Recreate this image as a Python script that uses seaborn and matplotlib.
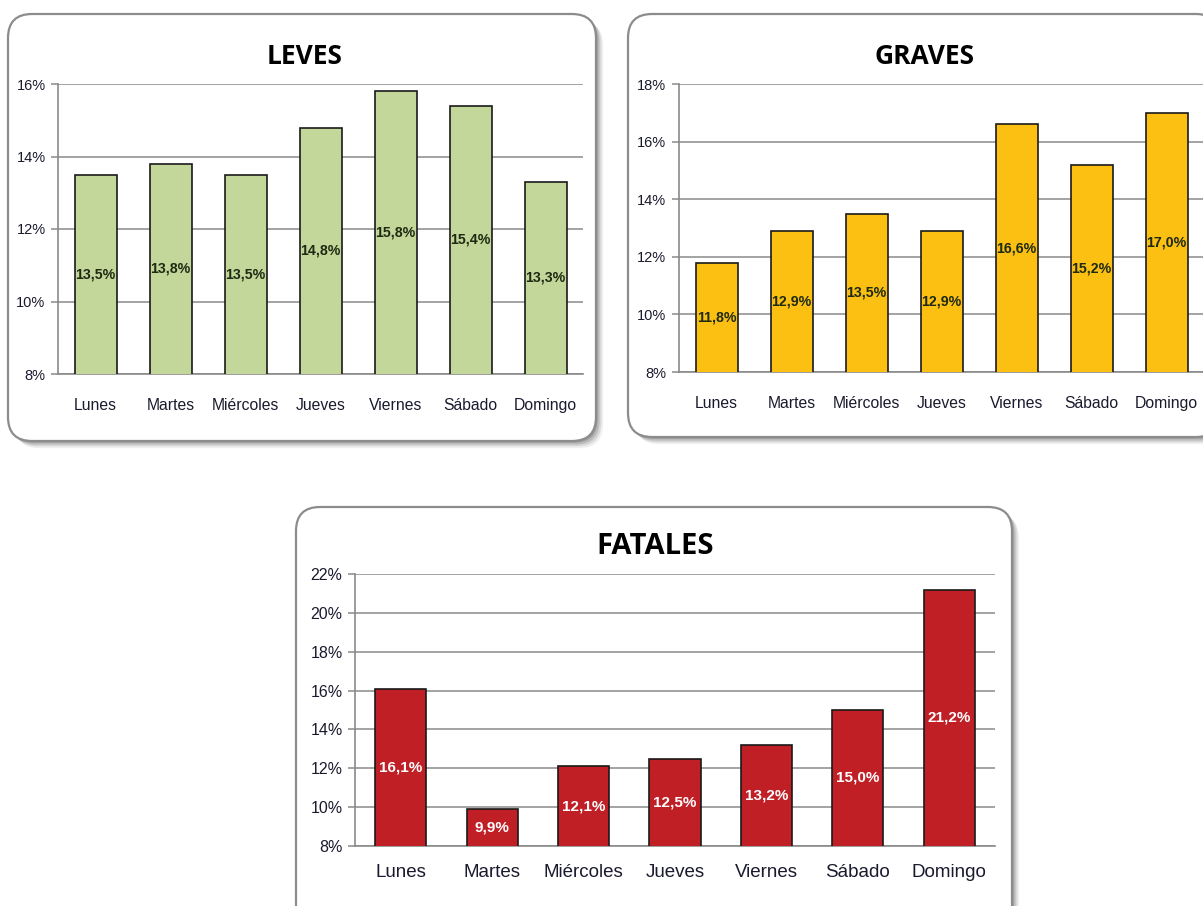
import matplotlib
matplotlib.use("Agg")
import matplotlib.pyplot as plt
from matplotlib.patches import FancyBboxPatch
import seaborn as sns
import pandas as pd

# Share of road accidents by day of week, per severity
dias = ["Lunes", "Martes", "Miércoles", "Jueves", "Viernes", "Sábado", "Domingo"]
leves = [13.5, 13.8, 13.5, 14.8, 15.8, 15.4, 13.3]
graves = [11.8, 12.9, 13.5, 12.9, 16.6, 15.2, 17.0]
fatales = [16.1, 9.9, 12.1, 12.5, 13.2, 15.0, 21.2]

sns.set_theme(style="white")
plt.rcParams["font.family"] = ["Liberation Sans", "DejaVu Sans"]

W, H = 1203, 906
fig = plt.figure(figsize=(W / 100, H / 100), dpi=100)
fig.patch.set_facecolor("white")


def px_rect(x0, y0, x1, y1):
    """Convert pixel box (top-left origin) to figure fractions [l, b, w, h]."""
    return [x0 / W, 1 - y1 / H, (x1 - x0) / W, (y1 - y0) / H]


def panel_box(x0, y0, x1, y1):
    l, b, w, h = px_rect(x0, y0, x1, y1)
    # soft shadow, offset down and right
    for i, a in enumerate([0.08, 0.14, 0.20, 0.26]):
        off = (4 - i) * 1.8
        sh = FancyBboxPatch((l + off / W, b - off / H), w, h,
                            boxstyle="round,pad=0,rounding_size=0.02",
                            transform=fig.transFigure, facecolor="#4a4a4a",
                            edgecolor="none", alpha=a, zorder=0,
                            mutation_aspect=W / H)
        fig.patches.append(sh)
    box = FancyBboxPatch((l, b), w, h,
                         boxstyle="round,pad=0,rounding_size=0.02",
                         transform=fig.transFigure, facecolor="white",
                         edgecolor="#8c8c8c", linewidth=1.6, zorder=1,
                         mutation_aspect=W / H)
    fig.patches.append(box)


def draw_panel(rect, values, title, title_xy, color, ymin, ymax,
               label_color, xtick_fs, ytick_fs, xpad, value_fs, title_fs):
    ax = fig.add_axes(rect)
    ax.set_zorder(2)
    df = pd.DataFrame({"dia": dias, "pct": values})
    sns.barplot(data=df, x="dia", y="pct", color=color, saturation=1,
                edgecolor="#1a1a1a", linewidth=1.2, width=0.56, ax=ax,
                zorder=3)
    ax.set_ylim(ymin, ymax)
    ax.set_xlim(-0.5, len(dias) - 0.5)
    ax.set_yticks(range(ymin, ymax + 1, 2))
    ax.set_yticklabels([f"{t}%" for t in range(ymin, ymax + 1, 2)])
    ax.yaxis.grid(True, color="#8a8a8a", linewidth=1.1, zorder=0)
    ax.set_axisbelow(True)
    ax.set_xlabel("")
    ax.set_ylabel("")
    ax.set_facecolor("none")
    for s in ["top", "right"]:
        ax.spines[s].set_visible(False)
    for s in ["left", "bottom"]:
        ax.spines[s].set_color("#8a8a8a")
        ax.spines[s].set_linewidth(1.2)
    ax.tick_params(axis="x", which="major", length=0, pad=xpad,
                   labelsize=xtick_fs, labelcolor="#1a1a2e")
    ax.set_xticks([i - 0.5 for i in range(len(dias) + 1)], minor=True)
    ax.tick_params(axis="x", which="minor", length=5, width=1.1,
                   color="#8a8a8a", direction="out")
    ax.tick_params(axis="y", length=5, width=1.1, color="#8a8a8a",
                   direction="out", labelsize=ytick_fs,
                   labelcolor="#1a1a2e", pad=4, left=True)
    for i, v in enumerate(values):
        ax.text(i, (ymin + v) / 2, f"{v:.1f}%".replace(".", ","),
                ha="center", va="center", fontsize=value_fs,
                fontweight="bold", color=label_color, zorder=5,
                family=["Liberation Sans Narrow", "Liberation Sans"])
    fig.text(title_xy[0] / W, 1 - title_xy[1] / H, title, ha="center",
             va="center", fontsize=title_fs, fontweight="bold",
             color="black", family=["Open Sans", "DejaVu Sans"], zorder=5)
    return ax


panel_box(8, 14, 596, 441)
panel_box(628, 14, 1220, 437)
panel_box(296, 507, 1012, 930)

draw_panel(px_rect(58, 84, 583, 374), leves, "LEVES", (305, 56),
           "#c4d79b", 8, 16, "#1e2a12", 11.3, 10.5, 17, 10.2, 19)
draw_panel(px_rect(679, 84, 1204, 372), graves, "GRAVES", (924, 56),
           "#fcc013", 8, 18, "#1e2a12", 11.3, 10.5, 17, 10.2, 19)
draw_panel(px_rect(355, 574, 995, 846), fatales, "FATALES", (655, 546),
           "#c01f26", 8, 22, "white", 13.5, 11.5, 13, 11, 21)

fig.savefig("out.png", dpi=100, facecolor="white")
